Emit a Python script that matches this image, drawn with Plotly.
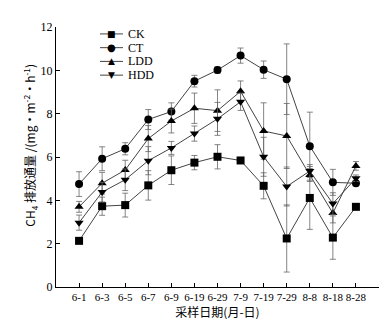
import plotly.graph_objects as go

dates = ["6-1", "6-3", "6-5", "6-7", "6-9", "6-19", "6-29", "7-9", "7-19", "7-29", "8-8", "8-18", "8-28"]
ck = [2.13, 3.73, 3.78, 4.69, 5.39, 5.74, 6.01, 5.84, 4.67, 2.24, 4.11, 2.28, 3.70]
ct = [4.75, 5.92, 6.38, 7.73, 8.10, 9.50, 10.01, 10.68, 10.03, 9.59, 6.50, 4.83, 4.79]
ldd = [3.70, 4.79, 5.40, 6.85, 7.66, 8.25, 8.14, 9.03, 7.20, 6.97, 5.17, 3.41, 5.59]
hdd = [2.97, 4.38, 4.95, 5.83, 6.42, 7.08, 7.76, 8.55, 6.01, 4.64, 5.35, 3.85, 5.02]
ck_err = [0.12, 0.42, 0.55, 0.68, 0.66, 0.33, 0.56, 0.10, 0.60, 1.55, 1.45, 1.00, 0.10]
ct_err = [0.57, 0.55, 0.28, 0.46, 0.40, 0.27, 0.15, 0.35, 0.40, 1.63, 1.57, 0.60, 0.12]
ldd_err = [0.25, 0.50, 0.45, 0.60, 0.55, 0.70, 0.96, 0.48, 1.30, 1.50, 0.30, 0.45, 0.20]
hdd_err = [0.35, 0.45, 0.50, 0.65, 0.30, 0.35, 0.76, 0.40, 0.90, 0.90, 0.30, 0.50, 0.15]
y_ticks = [0, 2, 4, 6, 8, 10, 12]
series_names = ["CK", "CT", "LDD", "HDD"]

symbols = ["square", "circle", "triangle-up", "triangle-down"]
legend_glyphs = ["■", "●", "▲", "▼"]
series = list(zip(series_names, [ck, ct, ldd, hdd], [ck_err, ct_err, ldd_err, hdd_err], symbols))

W, H = 387, 319
ML, MR, MT, MB = 48, 16, 17, 39
PW, PH = W - ML - MR, H - MT - MB

xs = list(range(len(dates)))
fig = go.Figure()
for name, vals, err, sym in series:
    fig.add_trace(go.Scatter(
        x=xs, y=vals, name=name, mode="lines+markers",
        line=dict(color="#444444", width=1),
        marker=dict(symbol=sym, size=8, color="black"),
        error_y=dict(type="data", array=err, visible=True, color="#666666", thickness=0.8, width=3),
        showlegend=False,
    ))

serif = "Liberation Serif, Times New Roman, serif"

# manual compact legend (top-left inside the plot)
shapes = []
annotations = []
leg_x0, leg_x1, leg_top, leg_step = 92, 115, 24, 13.9
for i, (name, glyph) in enumerate(zip(series_names, legend_glyphs)):
    ypx = leg_top + i * leg_step
    yp = (H - MB - ypx) / PH
    xp0 = (leg_x0 - ML) / PW
    xp1 = (leg_x1 - ML) / PW
    shapes.append(dict(type="line", xref="paper", yref="paper", x0=xp0, x1=xp1, y0=yp, y1=yp,
                       line=dict(color="#444444", width=1)))
    annotations.append(dict(xref="paper", yref="paper", x=(xp0 + xp1) / 2, y=yp, text=glyph,
                            showarrow=False, xanchor="center", yanchor="middle",
                            font=dict(family="DejaVu Sans", size=9 if glyph != "●" else 10, color="black")))
    annotations.append(dict(xref="paper", yref="paper", x=(118 - ML) / PW, y=yp, text=name,
                            showarrow=False, xanchor="left", yanchor="middle",
                            font=dict(family=serif, size=12, color="black")))

# y-axis title
annotations.append(dict(xref="paper", yref="paper", x=(22 - ML) / PW, y=(H - MB - 137) / PH,
                        text="CH<sub>4</sub> 排放通量 /(mg·m<sup>-2</sup>·h<sup>-1</sup>)",
                        textangle=-90, showarrow=False, xanchor="center", yanchor="middle",
                        font=dict(family="Noto Sans CJK SC", size=12, color="black")))

fig.update_layout(
    width=W, height=H,
    margin=dict(l=ML, r=MR, t=MT, b=MB),
    paper_bgcolor="white", plot_bgcolor="white",
    font=dict(family=serif, size=11, color="black"),
    showlegend=False,
    shapes=shapes,
    annotations=annotations,
    xaxis=dict(
        range=[-1, len(dates)], tickmode="array",
        tickvals=xs + [len(dates)], ticktext=dates + [""],
        ticks="inside", ticklen=4, tickcolor="black",
        showline=True, linecolor="black", linewidth=1,
        showgrid=False, zeroline=False,
        tickfont=dict(family=serif, size=11),
        title=dict(text="采样日期(月-日)", font=dict(family="Noto Sans CJK SC", size=12), standoff=3),
    ),
    yaxis=dict(
        range=[0, 12], tickmode="array", tickvals=y_ticks,
        ticks="inside", ticklen=4, tickcolor="black",
        showline=True, linecolor="black", linewidth=1,
        showgrid=False, zeroline=False,
        tickfont=dict(family=serif, size=12),
    ),
)
fig.write_html("out.html")
